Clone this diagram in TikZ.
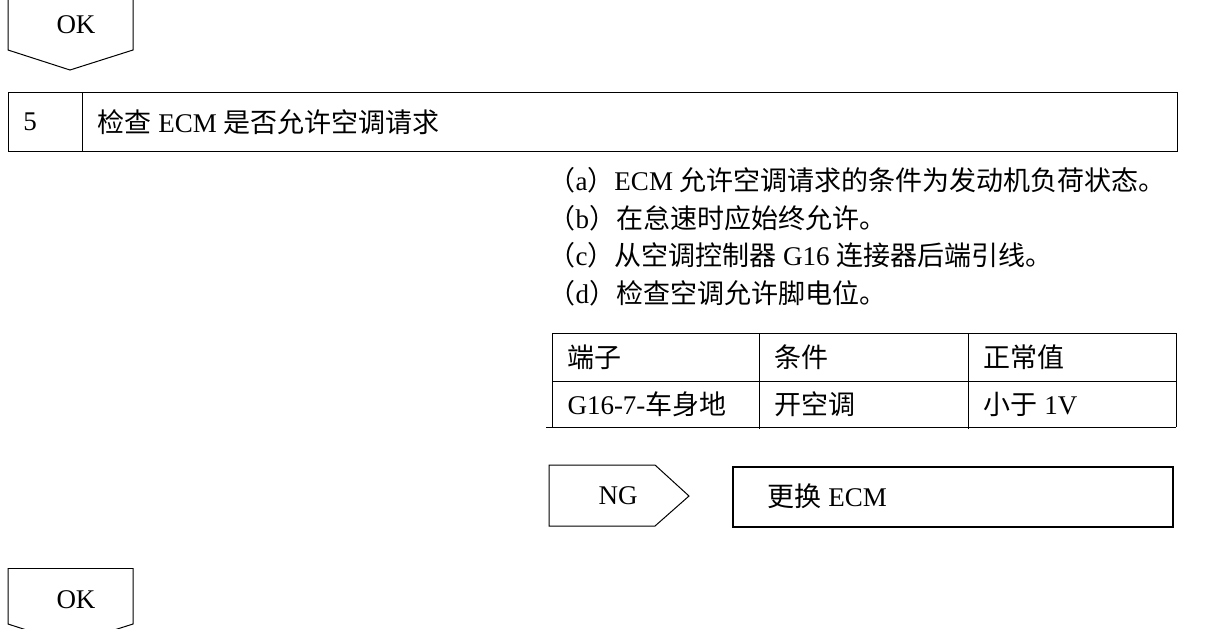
\documentclass[tikz,border=0pt]{standalone}
\usepackage{fontspec}
\setmainfont{Liberation Serif}
\newfontfamily\cjk{Noto Sans CJK SC}
\tikzset{txt/.style={anchor=west,inner sep=0pt}}

\begin{document}
\begin{tikzpicture}[x=0.5pt,y=-0.5pt,line width=0.5pt,font=\fontsize{13.5}{16}\selectfont]
\useasboundingbox (0,0) rectangle (1224,628);
\clip (0,0) rectangle (1224,628);

%OK top
\draw (8,-2) -- (8,50) -- (70,70) -- (133,50) -- (133,-2);
\node (oktop) at (76,25) {OK};

%step 5
\draw (8,92) rectangle (1177,151);
\draw (82,92) -- (82,151);
\node (stepnum) at (30,122) {5};
\node[txt] (steptitle) at (97,122) {{\cjk 检查} ECM {\cjk 是否允许空调请求}};

%a-d
\node[txt] (itema) at (548,180) {{\cjk （}a{\cjk ）}ECM {\cjk 允许空调请求的条件为发动机负荷状态。}};
\node[txt] (itemb) at (548,218) {{\cjk （}b{\cjk ）在怠速时应始终允许。}};
\node[txt] (itemc) at (548,255) {{\cjk （}c{\cjk ）从空调控制器} G16 {\cjk 连接器后端引线。}};
\node[txt] (itemd) at (548,293) {{\cjk （}d{\cjk ）检查空调允许脚电位。}};

%table
\draw (552,427) -- (552,333) -- (1176,333) -- (1176,427);
\draw (552,381) -- (1176,381);
\draw (546,427) -- (1176,427);
\draw (759,333) -- (759,429);
\draw (968,333) -- (968,429);
\node[txt] (hterm) at (567,357) {\cjk 端子};
\node[txt] (hcond) at (774,357) {\cjk 条件};
\node[txt] (hval) at (983,357) {\cjk 正常值};
\node[txt] (vterm) at (567,404) {G16-7-{\cjk 车身地}};
\node[txt] (vcond) at (774,404) {\cjk 开空调};
\node[txt] (vval) at (983,404) {{\cjk 小于} 1V};

%NG
\draw (549,465) -- (655,465) -- (689,496) -- (655,526) -- (549,526) -- cycle;
\node (ng) at (618,496) {NG};

%result
\draw[line width=1.2pt] (733,467) rectangle (1173,527);
\node[txt] (fix) at (767,496) {{\cjk 更换} ECM};

%OK bottom
\draw (8,568) -- (133,568);
\draw (8,568) -- (8,624) -- (70,644) -- (133,624) -- (133,568);
\node (okbot) at (76,600) {OK};

\end{tikzpicture}
\end{document}
